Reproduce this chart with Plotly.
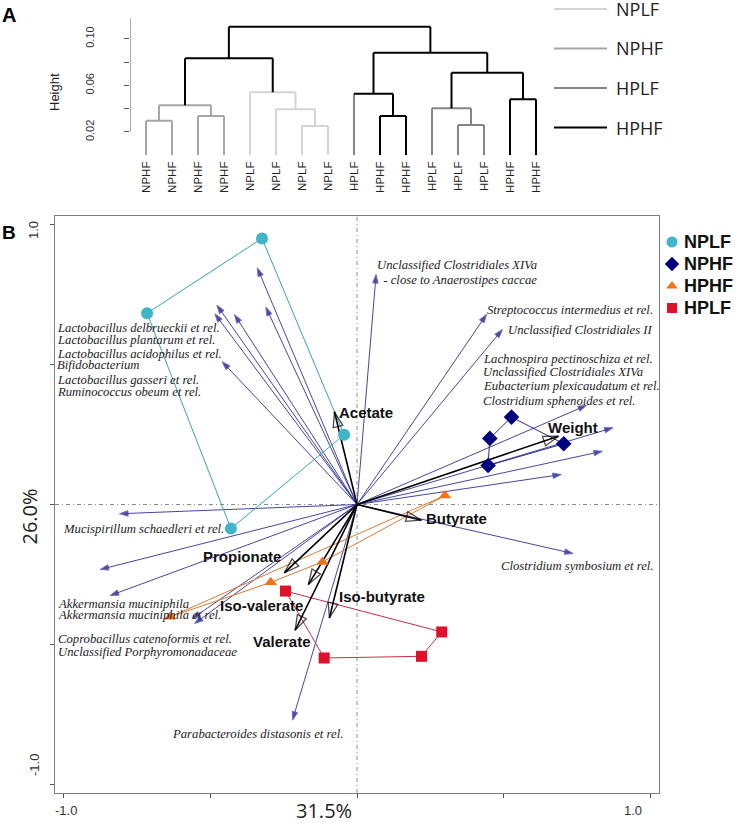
import plotly.graph_objects as go

# ---------------- panel A : hierarchical clustering ----------------
leaf_labels = ["NPHF", "NPHF", "NPHF", "NPHF", "NPLF", "NPLF", "NPLF", "NPLF",
               "HPLF", "HPHF", "HPHF", "HPLF", "HPLF", "HPLF", "HPHF", "HPHF"]
# hclust style merge table: negative = leaf, positive = earlier merge (1-based)
merge_left = [-1, -3, 1, -7, -6, -5, 3, -10, -9, -13, -12, -15, 11, 9, 7]
merge_right = [-2, -4, 2, -8, 4, 5, 6, -11, 8, -14, 10, -16, 12, 13, 14]
merge_height = [0.0297, 0.0337, 0.0429, 0.0251, 0.0394, 0.054, 0.0832, 0.0337,
                0.0528, 0.026, 0.0403, 0.048, 0.0708, 0.088, 0.1103]
merge_group = ["NPHF", "NPHF", "NPHF", "NPLF", "NPLF", "NPLF", "HPHF", "HPHF",
               "HPHF", "HPLF", "HPLF", "HPHF", "HPHF", "HPHF", "HPHF"]
dendro_groups = ["NPLF", "NPHF", "HPLF", "HPHF"]
dendro_colors = {"NPLF": "#d4d4d4", "NPHF": "#a6a6a6", "HPLF": "#858585", "HPHF": "#000000"}

# ---------------- panel B : RDA biplot ----------------
nplf_x = [-0.324, -0.716, -0.430, -0.044]
nplf_y = [0.950, 0.683, -0.086, 0.249]
nphf_x = [0.527, 0.705, 0.447, 0.453]
nphf_y = [0.312, 0.217, 0.139, 0.236]
hphf_x = [-0.637, -0.294, -0.118, 0.300]
hphf_y = [-0.401, -0.278, -0.205, 0.032]
hplf_x = [-0.244, 0.289, 0.220, -0.112]
hplf_y = [-0.309, -0.455, -0.542, -0.548]

species_x = [-0.340, -0.478, -0.485, -0.418, -0.311, -0.460, 0.065, 0.442, 0.496, 0.783,
             0.873, 0.837, 0.697, 0.737, -0.810, -0.876, -0.842, -0.563, -0.554, -0.220]
species_y = [0.845, 0.712, 0.681, 0.678, 0.705, 0.510, 0.821, 0.679, 0.625, 0.354,
             0.274, 0.190, 0.107, -0.175, -0.033, -0.232, -0.325, -0.408, -0.425, -0.770]

env_names = ["Acetate", "Weight", "Butyrate", "Propionate", "Iso-valerate", "Iso-butyrate", "Valerate"]
env_x = [-0.077, 0.687, 0.220, -0.248, -0.166, -0.094, -0.211]
env_y = [0.331, 0.244, -0.056, -0.244, -0.286, -0.405, -0.449]
env_label_x = [0.029, 0.736, 0.339, -0.392, -0.325, 0.084, -0.256]
env_label_y = [0.329, 0.275, -0.050, -0.186, -0.361, -0.329, -0.489]

species_labels = [
    "Lactobacillus delbrueckii et rel.", "Lactobacillus plantarum et rel.",
    "Lactobacillus acidophilus et rel.", "Bifidobacterium",
    "Lactobacillus gasseri et rel.", "Ruminococcus obeum et rel.",
    "Unclassified Clostridiales XIVa", "  - close to Anaerostipes caccae",
    "Streptococcus intermedius et rel.", "Unclassified Clostridiales II",
    "Lachnospira pectinoschiza et rel.", "Unclassified Clostridiales XIVa",
    "Eubacterium plexicaudatum et rel.", "Clostridium sphenoides et rel.",
    "Mucispirillum schaedleri et rel.",
    "Akkermansia muciniphila", "Akkermansia muciniphila et rel.",
    "Coprobacillus catenoformis et rel.", "Unclassified Porphyromonadaceae",
    "Parabacteroides distasonis et rel.", "Clostridium symbosium et rel.",
]
species_label_x = [-1.021] * 6 + [0.073, 0.073, 0.447, 0.518] + [0.433] * 4 + [-0.998] + [-1.018] * 4 + [-0.626, 0.496]
species_label_y = [0.631, 0.589, 0.539, 0.498, 0.446, 0.403, 0.854, 0.800, 0.696, 0.623,
                   0.518, 0.474, 0.423, 0.371, -0.086, -0.355, -0.396, -0.479, -0.528, -0.821, -0.220]

W, H = 740.0, 823.0
# key boxes (pixel layout): panel A key lines, panel B key markers
keyA_x0, keyA_x1, keyA_top, keyA_step = 554, 607, 9, 39.5
keyB_x, keyB_top, keyB_step = 672, 242, 22

fig = go.Figure()

# ---- dendrogram segments ----
node_x, node_h = {}, {}
def child(c):
    if c < 0:
        return float(-c), 0.0
    return node_x[c], node_h[c]

segs = {g: ([], []) for g in dendro_groups}
for k in range(len(merge_left)):
    lx, lh = child(merge_left[k])
    rx, rh = child(merge_right[k])
    h = merge_height[k]
    g = merge_group[k]
    node_x[k + 1] = (lx + rx) / 2
    node_h[k + 1] = h
    segs[g][0].extend([lx, rx, None])
    segs[g][1].extend([h, h, None])
    for c, cx, ch in [(merge_left[k], lx, lh), (merge_right[k], rx, rh)]:
        cg = leaf_labels[-c - 1] if c < 0 else g
        segs[cg][0].extend([cx, cx, None])
        segs[cg][1].extend([h, ch, None])

for g in dendro_groups:
    fig.add_trace(go.Scatter(x=segs[g][0], y=segs[g][1], mode="lines", name=g,
                             line=dict(color=dendro_colors[g], width=2),
                             xaxis="x2", yaxis="y2", showlegend=False, hoverinfo="skip"))

# key of panel A, drawn on its own small axis
for i, g in enumerate(dendro_groups):
    fig.add_trace(go.Scatter(x=[0, 1], y=[i, i], mode="lines",
                             line=dict(color=dendro_colors[g], width=2),
                             xaxis="x4", yaxis="y4", showlegend=False, hoverinfo="skip"))

# ---- species arrows ----
for sx, sy in zip(species_x, species_y):
    fig.add_trace(go.Scatter(x=[0, sx], y=[0, sy], mode="lines+markers",
                             line=dict(color="rgba(50,50,150,0.9)", width=1),
                             marker=dict(symbol="arrow", size=[0, 9], angleref="previous",
                                         color="#000080"),
                             showlegend=False, hoverinfo="skip"))

# ---- group hulls ----
groups = [("NPLF", nplf_x, nplf_y, "circle", 12, "#40b4c8", "#3aa2b5"),
          ("NPHF", nphf_x, nphf_y, "diamond", 12, "#000080", "#2a2a88"),
          ("HPHF", hphf_x, hphf_y, "triangle-up", 11, "#f07318", "#d77a35"),
          ("HPLF", hplf_x, hplf_y, "square", 11, "#e0102a", "#c83048")]
for name, gx, gy, sym, sz, col, lcol in groups:
    fig.add_trace(go.Scatter(x=gx + gx[:1], y=gy + gy[:1], mode="lines",
                             line=dict(color=lcol, width=1), showlegend=False,
                             hoverinfo="skip"))

# ---- environmental arrows ----
for ex, ey in zip(env_x, env_y):
    fig.add_trace(go.Scatter(x=[0, ex], y=[0, ey], mode="lines+markers",
                             line=dict(color="black", width=1.6),
                             marker=dict(symbol="arrow-open", size=[0, 16], angleref="previous",
                                         color="black", line=dict(color="black", width=1.3)),
                             showlegend=False, hoverinfo="skip"))

# ---- sample points ----
for name, gx, gy, sym, sz, col, lcol in groups:
    fig.add_trace(go.Scatter(x=gx, y=gy, mode="markers", name=name,
                             marker=dict(symbol=sym, size=sz, color=col),
                             showlegend=False))

# key of panel B, drawn on its own small axis
for i, (name, gx, gy, sym, sz, col, lcol) in enumerate(groups):
    fig.add_trace(go.Scatter(x=[0], y=[i], mode="markers",
                             marker=dict(symbol=sym, size=sz - 1, color=col),
                             xaxis="x3", yaxis="y3", cliponaxis=False,
                             showlegend=False, hoverinfo="skip"))

ann = []
for t, x, y in zip(species_labels, species_label_x, species_label_y):
    ann.append(dict(x=x, y=y, xref="x", yref="y", text="<i>" + t + "</i>", showarrow=False,
                    xanchor="left", yanchor="middle", xshift=-3,
                    font=dict(family="Liberation Serif", size=12.7, color="#222")))
for t, x, y in zip(env_names, env_label_x, env_label_y):
    ann.append(dict(x=x, y=y, xref="x", yref="y", text="<b>" + t + "</b>", showarrow=False,
                    xanchor="center", yanchor="middle",
                    font=dict(family="Liberation Sans", size=15, color="#111")))
for i, (name, *_rest) in enumerate(groups):
    ann.append(dict(x=(keyB_x + 10) / W, y=1 - (keyB_top + keyB_step * i) / H,
                    xref="paper", yref="paper", text="<b>" + name + "</b>",
                    showarrow=False, xanchor="left", yanchor="middle",
                    font=dict(family="Liberation Sans", size=18, color="#111")))
for i, g in enumerate(dendro_groups):
    ann.append(dict(x=(keyA_x1 + 7) / W, y=1 - (keyA_top + keyA_step * i) / H,
                    xref="paper", yref="paper", text=g,
                    showarrow=False, xanchor="left", yanchor="middle",
                    font=dict(family="Open Sans", size=18, color="#222")))

def px(x, y, text, size, angle=0, family="Liberation Sans", color="#222"):
    return dict(x=x / W, y=1 - y / H, xref="paper", yref="paper", text=text, showarrow=False,
                textangle=angle, xanchor="center", yanchor="middle",
                font=dict(family=family, size=size, color=color))

ann += [
    px(9, 15, "<b>A</b>", 20, color="#000"),
    px(9, 232, "<b>B</b>", 19, color="#000"),
    px(54, 92, "Height", 13, -90),
    px(324, 810, "31.5%", 20, family="Open Sans"),
    px(28.5, 517, "26.0%", 20, -90, family="Open Sans"),
    px(66, 810, "-1.0", 13, color="#333"),
    px(632.5, 810, "1.0", 13, color="#333"),
    px(34, 230, "1.0", 13, -90, color="#333"),
    px(34, 765, "-1.0", 13, -90, color="#333"),
]

dash = "4px,3px,1px,3px"
shapes = [
    dict(type="line", xref="x", yref="y domain", x0=0, x1=0, y0=0, y1=1,
         line=dict(color="#8a8a8a", width=1, dash=dash), layer="below"),
    dict(type="line", xref="x domain", yref="y", x0=0, x1=1, y0=0, y1=0,
         line=dict(color="#8a8a8a", width=1, dash=dash), layer="below"),
    dict(type="line", xref="x2", yref="y2", x0=0.385, x1=0.385, y0=0.02, y1=0.1175,
         line=dict(color="#555", width=1)),
]

# bare axes for the two keys: no line, no ticks, no labels
bare = dict(showgrid=False, zeroline=False, showline=False, ticks="",
            showticklabels=False, fixedrange=True)

fig.update_layout(
    width=740, height=823,
    margin=dict(l=0, r=0, t=0, b=0),
    paper_bgcolor="white", plot_bgcolor="white",
    font=dict(family="Liberation Sans"),
    annotations=ann, shapes=shapes, showlegend=False,
    xaxis=dict(domain=[55 / W, 659 / W], range=[-1.03, 1.03], anchor="y",
               showgrid=False, zeroline=False, showline=True, mirror=True,
               linecolor="#7f7f7f", linewidth=1, ticks="outside", ticklen=4,
               tickcolor="#555", tickvals=[-1, -0.5, 0, 0.5, 1], showticklabels=False),
    yaxis=dict(domain=[30 / H, 607 / H], range=[-1.03, 1.03], anchor="x",
               showgrid=False, zeroline=False, showline=True, mirror=True,
               linecolor="#7f7f7f", linewidth=1, ticks="outside", ticklen=4,
               tickcolor="#555", tickvals=[-1, -0.5, 0, 0.5, 1], showticklabels=False),
    xaxis2=dict(domain=[130 / W, 549 / W], range=[0.385, 16.5], anchor="y2",
                showgrid=False, zeroline=False, showline=False, ticks="",
                tickvals=list(range(1, 17)), ticktext=leaf_labels, tickangle=-90,
                ticklabelstandoff=3,
                tickfont=dict(family="Liberation Sans", size=11.5, color="#222")),
    yaxis2=dict(domain=[(H - 155.3) / H, (H - 15.4) / H], range=[0, 0.12], anchor="x2",
                showgrid=False, zeroline=False, showline=False, ticks="outside",
                ticklen=5, tickcolor="#555",
                tickvals=[0.02, 0.04, 0.06, 0.08, 0.10],
                ticktext=["0.02", "", "0.06", "", "0.10"], tickangle=-90,
                ticklabelstandoff=26,
                tickfont=dict(family="Liberation Sans", size=11, color="#333")),
    xaxis3=dict(domain=[(keyB_x - 5) / W, (keyB_x + 5) / W], range=[-1, 1], anchor="y3", **bare),
    yaxis3=dict(domain=[(H - keyB_top - 3.5 * keyB_step) / H, (H - keyB_top + 0.5 * keyB_step) / H],
                range=[3.5, -0.5], anchor="x3", **bare),
    xaxis4=dict(domain=[keyA_x0 / W, keyA_x1 / W], range=[0, 1], anchor="y4", **bare),
    yaxis4=dict(domain=[(H - keyA_top - 3.5 * keyA_step) / H, 1],
                range=[3.5, -keyA_top / keyA_step], anchor="x4", **bare),
)

fig.write_html("out.html", config={"displayModeBar": False},
               post_script="document.body.style.margin='0';")
